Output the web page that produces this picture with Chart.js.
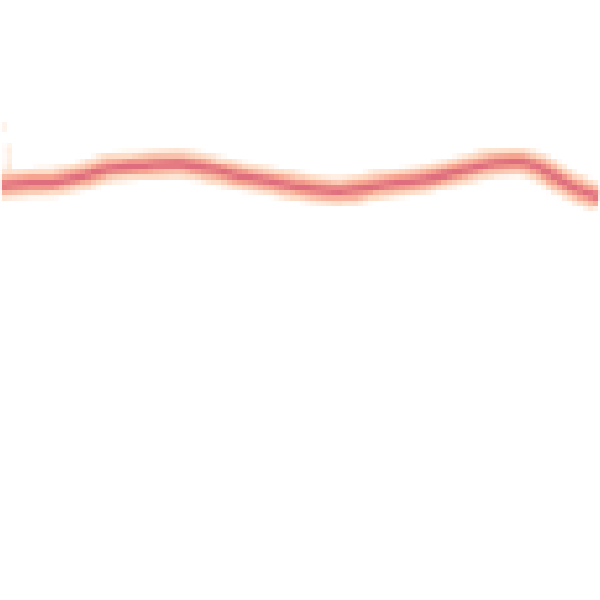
<!DOCTYPE html>
<html>
<head>
<meta charset="utf-8">
<script src="https://cdn.jsdelivr.net/npm/chart.js@4.4.1/dist/chart.umd.min.js"></script>
<style>
  html, body { margin: 0; padding: 0; background: #fff; overflow: hidden; }
  #small { position: absolute; left: -1000px; top: 0; }
  #big { position: absolute; left: 0; top: 0; display: block; }
</style>
</head>
<body>
<canvas id="small" width="116" height="116"></canvas>
<canvas id="big" width="600" height="600"></canvas>
<script>
// center line of the trace, x across, y up from the bottom (0..600 both ways)
const xs = [0, 30, 60, 90, 110, 140, 180, 210, 250, 290, 330, 345, 380, 420, 460, 490, 520, 540, 560, 580, 600];
const ys = [415, 417, 419, 426, 432, 434, 436, 431, 422, 415, 409, 409, 415, 420, 429, 436, 438, 432, 420, 410, 402];

// a few stray light specks near the left edge
const speckX = [3, 8, 8, 8, 8, 8];
const speckY = [473, 452, 446, 440, 434, 429];

const pts = xs.map((x, i) => ({ x, y: ys[i] }));
const specks = speckX.map((x, i) => ({ x, y: speckY[i] }));

const layer = (color, width, order) => ({
  data: pts,
  borderColor: color,
  borderWidth: width,
  pointRadius: 0,
  pointHoverRadius: 0,
  pointHitRadius: 0,
  pointBorderWidth: 0,
  tension: 0.4,
  fill: false,
  order,
});

// copy the small plot area onto the big canvas without smoothing -> blocky cells
const blowUp = {
  id: 'blowUp',
  afterRender(chart) {
    const a = chart.chartArea;
    const big = document.getElementById('big').getContext('2d');
    big.imageSmoothingEnabled = false;
    big.fillStyle = '#fff';
    big.fillRect(0, 0, 600, 600);
    big.drawImage(chart.canvas, a.left, a.top, a.right - a.left, a.bottom - a.top, 0, 0, 600, 600);
  },
};

try {
  new Chart(document.getElementById('small'), {
    type: 'line',
    data: {
      datasets: [
        layer('rgb(222,110,126)', 1.3, 1),
        layer('rgb(246,164,144)', 3.2, 2),
        layer('rgb(253,221,199)', 5.4, 3),
        {
          data: specks,
          showLine: false,
          borderWidth: 0,
          pointStyle: 'rect',
          pointRadius: 0.7,
          pointHoverRadius: 0,
          pointHitRadius: 0,
          pointBorderWidth: 0,
          pointBackgroundColor: 'rgb(253,226,206)',
          order: 4,
        },
      ],
    },
    options: {
      responsive: false,
      devicePixelRatio: 1,
      animation: false,
      layout: { padding: 0 },
      plugins: { legend: { display: false }, tooltip: { enabled: false } },
      scales: {
        x: { type: 'linear', min: 0, max: 600, display: false },
        y: { type: 'linear', min: 0, max: 600, display: false },
      },
    },
    plugins: [blowUp],
  });
} catch (e) { console.error('chart failed', e); }
</script>
</body>
</html>
